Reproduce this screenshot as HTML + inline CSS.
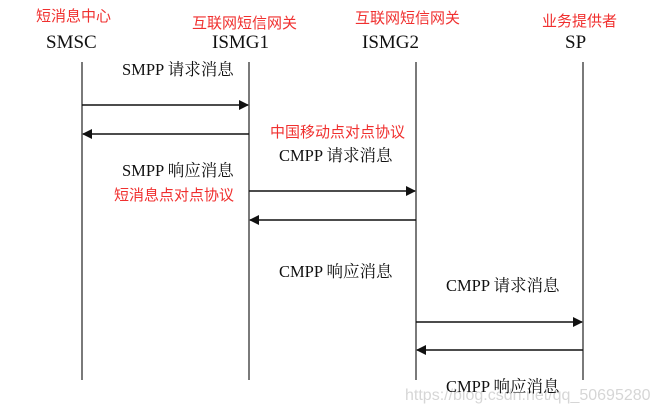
<!DOCTYPE html>
<html><head><meta charset="utf-8"><style>
html,body{margin:0;padding:0;background:#fff;}
svg text{font-family:"Liberation Serif","Noto Serif CJK SC","Noto Sans CJK SC",serif;}
.r{fill:#f0302f;font-family:"Liberation Sans","Noto Sans CJK SC",sans-serif;font-size:15px;}
.b{fill:#111;font-size:16.5px;}
.n{fill:#111;font-size:19px;}
.w{fill:#d6d6d6;font-family:"Liberation Sans",sans-serif;font-size:16px;}
</style></head><body>
<svg width="658" height="411" viewBox="0 0 658 411" xmlns="http://www.w3.org/2000/svg">
<defs>
<marker id="a" markerWidth="10" markerHeight="10" refX="9" refY="5" orient="auto" markerUnits="userSpaceOnUse">
<path d="M0,0 L10,5 L0,10 z" fill="#111"/></marker>
</defs>
<g stroke="#333" stroke-width="1.3">
<line x1="82" y1="62" x2="82" y2="380"/>
<line x1="249" y1="62" x2="249" y2="380"/>
<line x1="416" y1="62" x2="416" y2="380"/>
<line x1="583" y1="62" x2="583" y2="380"/>
</g>
<g stroke="#111" stroke-width="1.4" marker-end="url(#a)">
<line x1="82" y1="105" x2="248" y2="105"/>
<line x1="249" y1="134" x2="83" y2="134"/>
<line x1="249" y1="191" x2="415" y2="191"/>
<line x1="416" y1="220" x2="250" y2="220"/>
<line x1="416" y1="322" x2="582" y2="322"/>
<line x1="583" y1="350" x2="417" y2="350"/>
</g>
<text class="r" x="36" y="21">短消息中心</text>
<text class="n" x="46" y="48">SMSC</text>
<text class="r" x="192" y="28">互联网短信网关</text>
<text class="n" x="212" y="48">ISMG1</text>
<text class="r" x="355" y="23">互联网短信网关</text>
<text class="n" x="362" y="48">ISMG2</text>
<text class="r" x="542" y="26">业务提供者</text>
<text class="n" x="565" y="48">SP</text>
<text class="b" x="122" y="75">SMPP 请求消息</text>
<text class="b" x="122" y="176">SMPP 响应消息</text>
<text class="r" x="114" y="200">短消息点对点协议</text>
<text class="r" x="270" y="137">中国移动点对点协议</text>
<text class="b" x="279" y="161">CMPP 请求消息</text>
<text class="b" x="279" y="277">CMPP 响应消息</text>
<text class="b" x="446" y="291">CMPP 请求消息</text>
<text class="w" x="405" y="400">https://blog.csdn.net/qq_50695280</text>
<text class="b" x="446" y="392">CMPP 响应消息</text>
</svg>
</body></html>
